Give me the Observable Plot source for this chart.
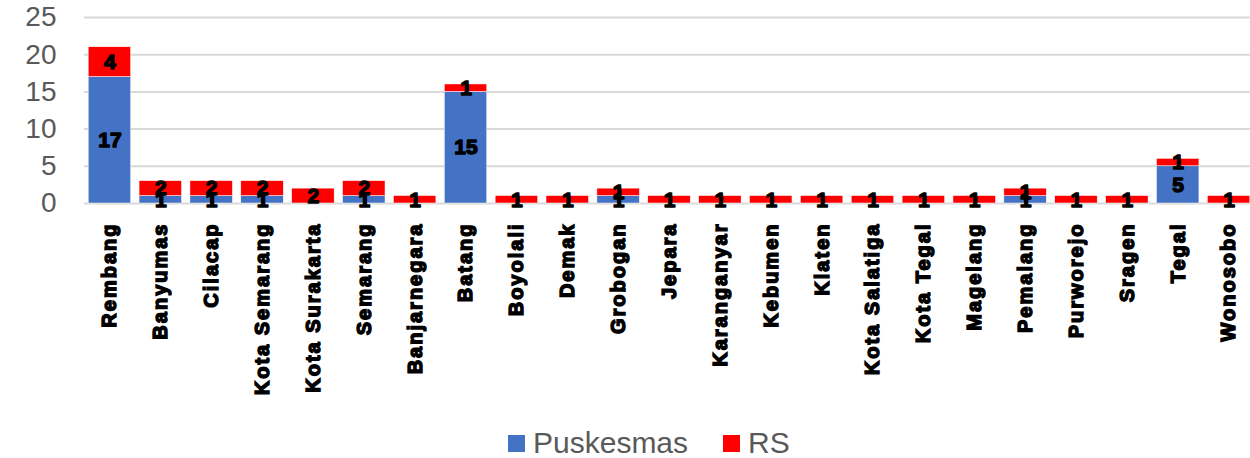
<!DOCTYPE html>
<html>
<head>
<meta charset="utf-8">
<script src="https://cdn.jsdelivr.net/npm/d3@7"></script>
<script src="https://cdn.jsdelivr.net/npm/@observablehq/plot@0.6"></script>
<style>
  body { margin: 0; background: #fff; font-family: "Liberation Sans", Arial, sans-serif; }
  #wrap { position: relative; width: 1250px; height: 458px; overflow: hidden; }
  #legend { position: absolute; left: 0; top: 412px; width: 1250px; height: 46px; }
  .item { position: absolute; top: 14px; display: flex; align-items: center; font-size: 30px; color: #595959; line-height: 34px; }
  .sw { width: 17px; height: 17px; margin-right: 8px; }
</style>
</head>
<body>
<div id="wrap"><div id="chart"></div><div id="legend"></div></div>
<script>
// Regencies / cities
const categories = [
  "Rembang", "Banyumas", "Cilacap", "Kota Semarang", "Kota Surakarta", "Semarang",
  "Banjarnegara", "Batang", "Boyolali", "Demak", "Grobogan", "Jepara", "Karanganyar",
  "Kebumen", "Klaten", "Kota Salatiga", "Kota Tegal", "Magelang", "Pemalang",
  "Purworejo", "Sragen", "Tegal", "Wonosobo"
];
const series = ["Puskesmas", "RS"];
const puskesmas = [17, 1, 1, 1, 0, 1, 0, 15, 0, 0, 1, 0, 0, 0, 0, 0, 0, 0, 1, 0, 0, 5, 0];
const rs        = [ 4, 2, 2, 2, 2, 2, 1,  1, 1, 1, 1, 1, 1, 1, 1, 1, 1, 1, 1, 1, 1, 1, 1];
const yTicks = [0, 5, 10, 15, 20, 25];
const colors = ["#4472C4", "#FF0000"];

const rows = [];
categories.forEach((c, i) => {
  rows.push({category: c, series: "Puskesmas", value: puskesmas[i]});
  rows.push({category: c, series: "RS", value: rs[i]});
});

const font = "'Liberation Sans', Arial, sans-serif";

const chart = Plot.plot({
  width: 1250,
  height: 412,
  marginLeft: 84,
  marginRight: 0,
  marginTop: 17,
  marginBottom: 209,
  style: {fontFamily: font, background: "white", overflow: "visible"},
  x: {domain: categories, range: [84, 1254], paddingInner: 0.165, paddingOuter: 0.0825, round: false, label: null},
  y: {domain: [0, 25], label: null},
  color: {domain: series, range: colors},
  marks: [
    Plot.ruleY(yTicks, {stroke: "#d9d9d9", strokeWidth: 2}),
    Plot.barY(rows, Plot.stackY({x: "category", y: "value", fill: "series", z: "series", stroke: "white", strokeWidth: 0.5})),
    Plot.text(rows, Plot.stackY({
      x: "category", y: "value", z: "series", text: "value",
      filter: d => d.value > 0,
      fill: "black", stroke: "black", strokeWidth: 1.4,
      fontSize: 21, fontWeight: "bold", fontFamily: font
    })),
    Plot.axisY({ticks: yTicks, tickSize: 0, tickPadding: 28, fontSize: 28, fill: "#595959", fontFamily: font}),
    Plot.axisX({tickSize: 0, tickPadding: 19, tickRotate: -90, fontSize: 20, fontWeight: "bold",
      fill: "black", fontFamily: font})
  ]
});
document.getElementById("chart").appendChild(chart);

// heavier, wider category labels
d3.select(chart).selectAll('g[aria-label="x-axis tick label"] text')
  .style("letter-spacing", "2px")
  .style("font-weight", "bold")
  .attr("stroke", "black")
  .attr("stroke-width", 1.4)
  .attr("paint-order", "stroke");

// legend
const legend = d3.select("#legend");
const positions = [508, 723];
series.forEach((s, i) => {
  const it = legend.append("div").attr("class", "item").style("left", positions[i] + "px");
  it.append("div").attr("class", "sw").style("background", colors[i]);
  it.append("span").text(s);
});
</script>
</body>
</html>
